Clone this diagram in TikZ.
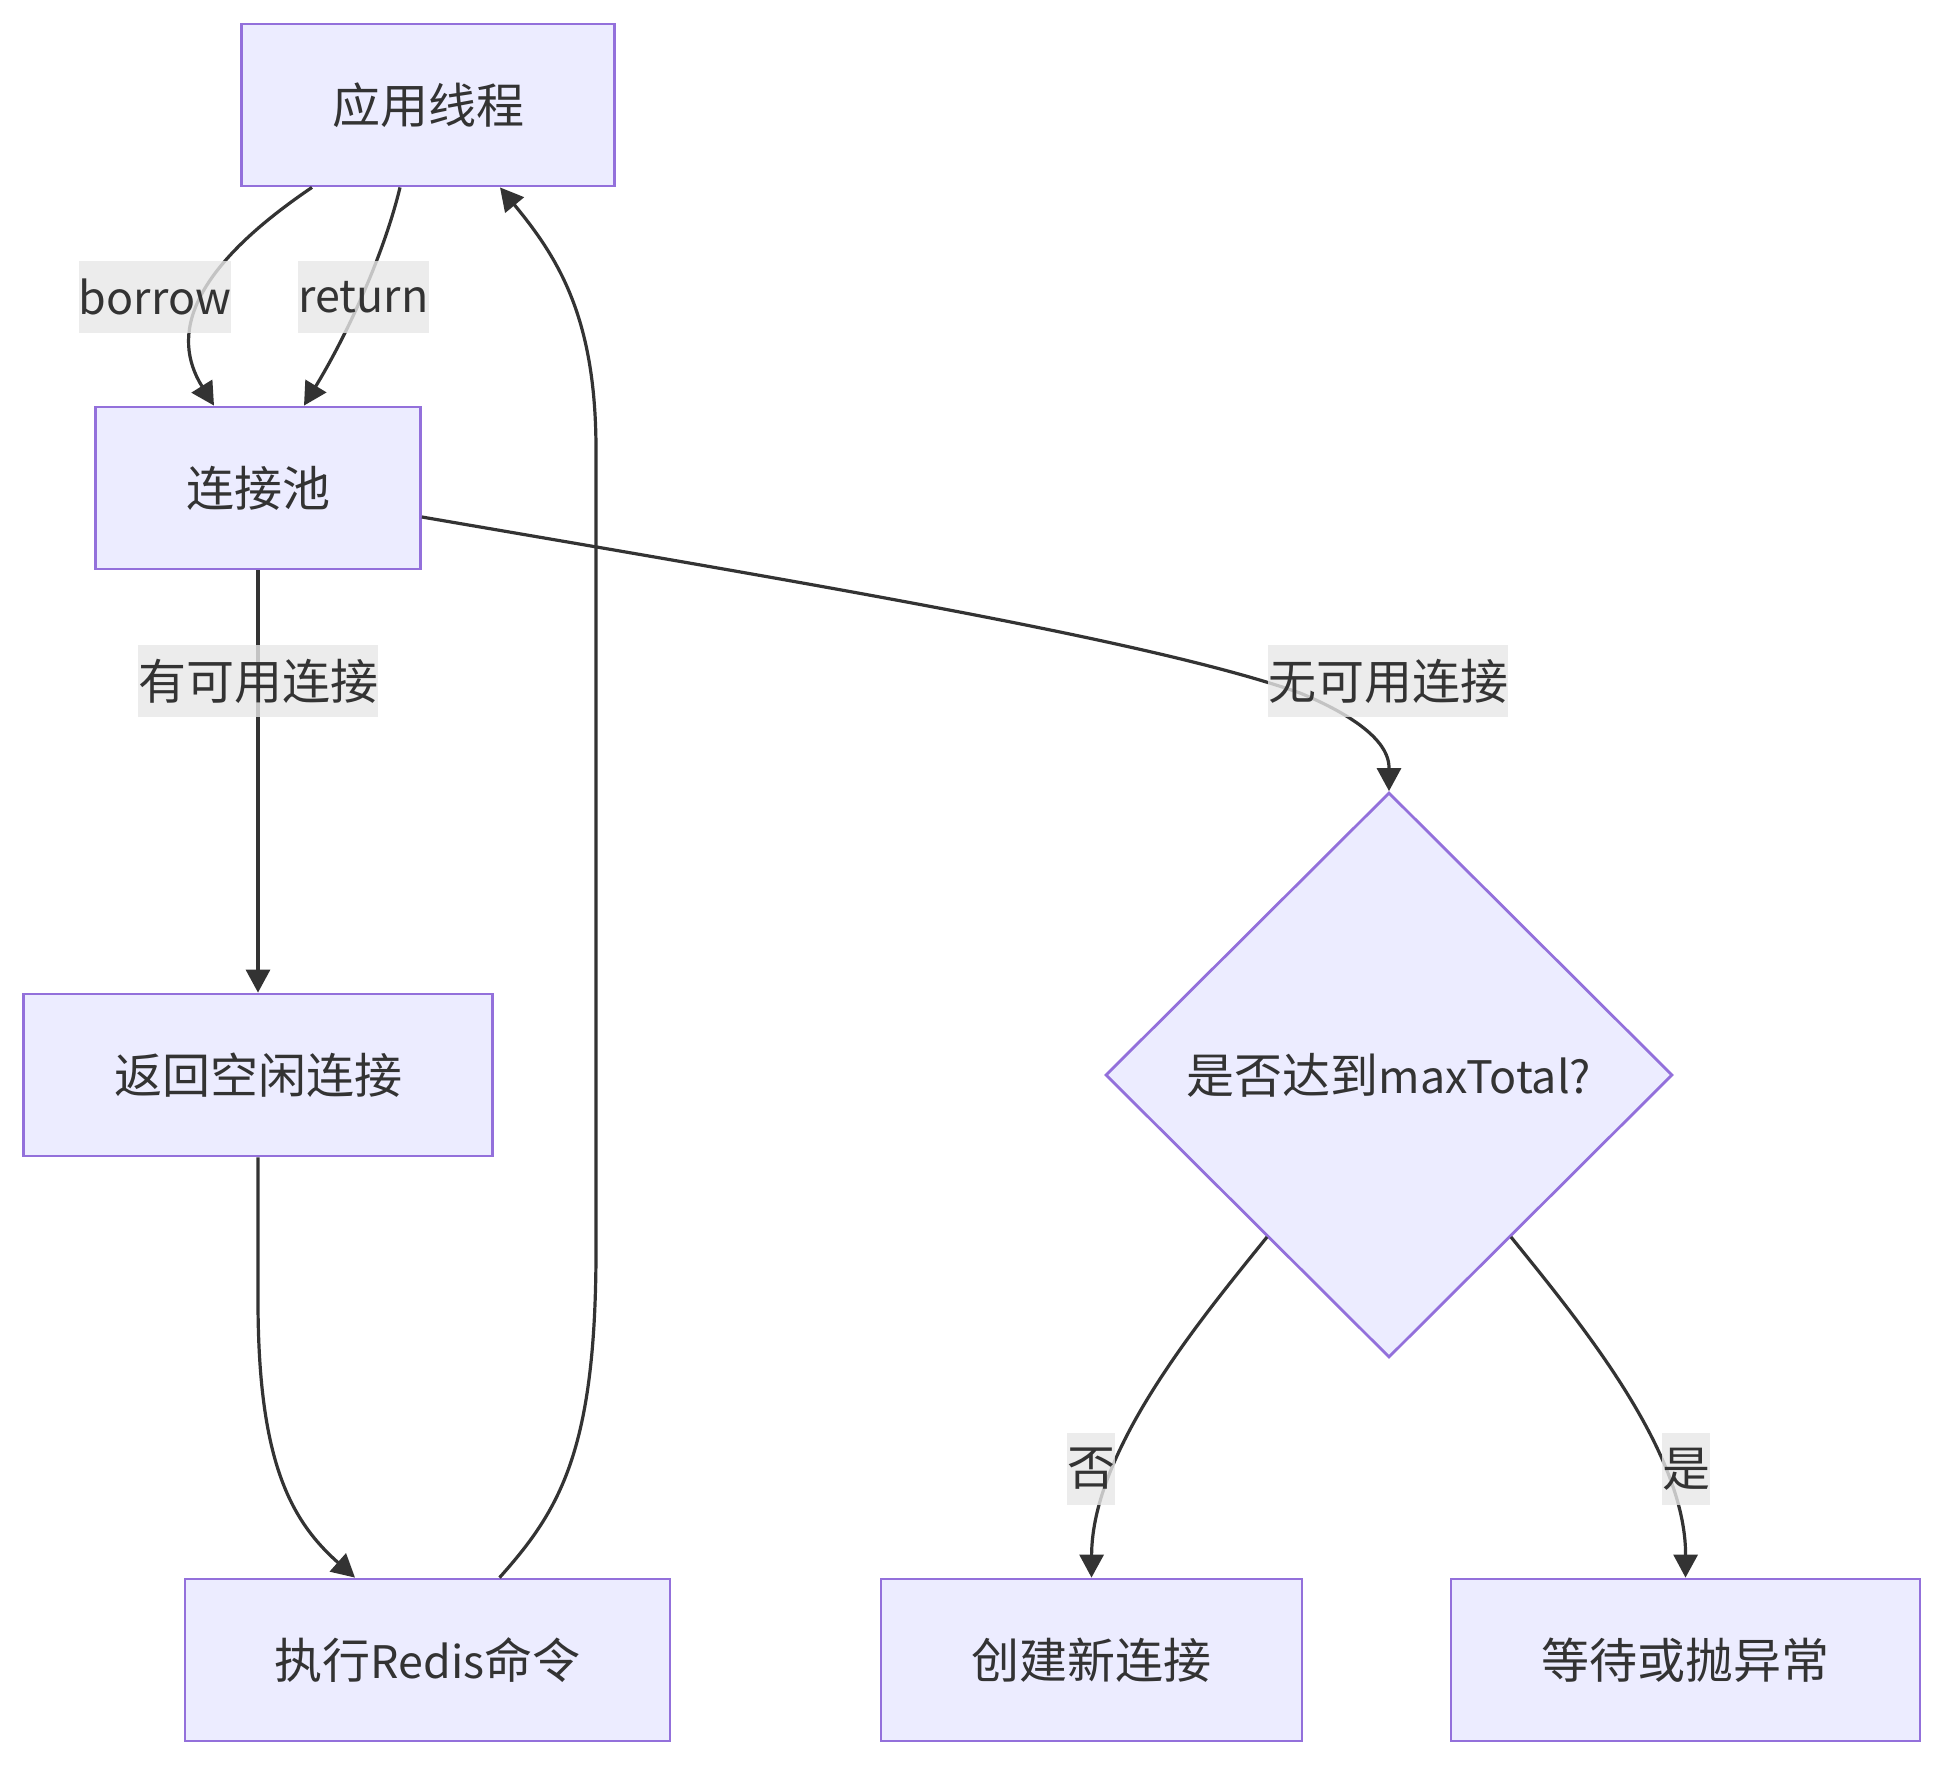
\documentclass[tikz,border=0pt]{standalone}
\usepackage{fontspec}
\setmainfont{Noto Sans CJK SC}
\usetikzlibrary{shapes.geometric,arrows.meta,calc}
\definecolor{nodefill}{HTML}{ECECFF}
\definecolor{nodeline}{HTML}{9370DB}
\definecolor{edgecol}{HTML}{333333}
\definecolor{lblbg}{HTML}{E8E8E8}
\newcommand\latnpart[1]{{\fontsize{22.4pt}{30pt}\selectfont #1}}
\begin{document}
\begin{tikzpicture}[x=0.5pt,y=-0.5pt,
  txt/.style={text=edgecol,font=\fontsize{24pt}{30pt}\selectfont},
  box/.style={txt,rectangle,draw=nodeline,fill=nodefill,line width=1.4pt,inner sep=0pt,minimum height=81pt},
  dec/.style={txt,diamond,draw=nodeline,fill=nodefill,line width=1.4pt,inner sep=0pt,minimum width=283.5pt,minimum height=282.5pt},
  lbl/.style={txt,fill=lblbg,fill opacity=0.8,text opacity=1,inner sep=0pt,minimum height=36pt},
  conn/.style={draw=edgecol,line width=1.6pt,-{Triangle[length=11.5pt,width=12pt]}}
]
\fill[white] (0,0) rectangle (1944,1766);
\useasboundingbox (0,0) rectangle (1944,1766);

\node[box,minimum width=186.5pt] (A) at (428,105) {应用线程};
\node[box,minimum width=162.5pt] (B) at (258,488) {连接池};
\node[box,minimum width=234.5pt] (C) at (258,1075) {返回空闲连接};
\node[box,minimum width=242.5pt] (D) at (427.5,1660) {执行\latnpart{Redis}命令};
\node[dec] (E) at (1389,1075) {是否达到\latnpart{maxTotal?}};
\node[box,minimum width=210.5pt] (F) at (1091.5,1660) {创建新连接};
\node[box,minimum width=234.5pt] (G) at (1685.5,1660) {等待或抛异常};

\draw[conn] ($(A.south)+(-116,0)$) .. controls (190,270) and (170,335) .. ($(B.north)+(-44,0)$);
\draw[conn] ($(A.south)+(-28,0)$) .. controls (385,250) and (350,330) .. ($(B.north)+(46,0)$);
\draw[conn] (B.south) -- (C.north);
\draw[conn] (C.south) -- (258,1300) .. controls (258,1460) and (290,1520) .. ($(D.north)+(-72.5,0)$);
\draw[conn] ($(D.north)+(72,0)$) .. controls (560,1510) and (596,1450) .. (596,1250) -- (596,450) .. controls (596,320) and (560,260) .. ($(A.south)+(72,0)$);
\draw[conn] ($(B.east)+(0,29)$) .. controls (800,582) and (1150,640) .. (1300,693) .. controls (1389,730) and (1389,760) .. (E.north);
\draw[conn] ($(E.center)+(-122,162)$) .. controls (1200,1320) and (1092,1450) .. (F.north);
\draw[conn] ($(E.center)+(122,162)$) .. controls (1578,1320) and (1686,1450) .. (G.north);

\node[lbl] (l1) at (155,297) {\latnpart{borrow}};
\node[lbl] (l2) at (363.5,297) {\latnpart{return}};
\node[lbl] (l3) at (258,681) {有可用连接};
\node[lbl] (l4) at (1388,681) {无可用连接};
\node[lbl] (l5) at (1091,1469) {否};
\node[lbl] (l6) at (1686,1469) {是};
\end{tikzpicture}
\end{document}
